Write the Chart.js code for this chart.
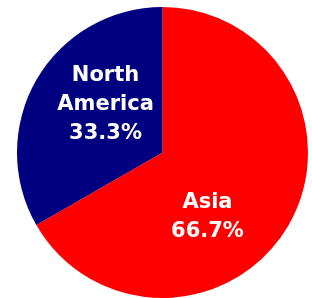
<!DOCTYPE html>
<html>
<head>
<meta charset="utf-8">
<script src="https://cdn.jsdelivr.net/npm/chart.js@4/dist/chart.umd.min.js"></script>
<style>
  html, body { margin: 0; padding: 0; background: #fff; }
  #wrap { width: 312px; height: 298px; }
</style>
</head>
<body>
<div id="wrap"><canvas id="pieChart"></canvas></div>
<script>
const regions = ["Asia", "North America"];
const shares = [66.7, 33.3];
const sliceColors = ["#FF0000", "#000080"];

// labels are drawn inside the slices, nudged from the arc centre like the original
const labelNudge = [[-18, 28], [6, -12]];

const sliceLabels = {
  id: "sliceLabels",
  afterDatasetsDraw(chart) {
    const ctx = chart.ctx;
    const meta = chart.getDatasetMeta(0);
    ctx.save();
    ctx.fillStyle = "#fff";
    ctx.font = "bold 21px 'DejaVu Sans', Verdana, sans-serif";
    ctx.textAlign = "center";
    ctx.textBaseline = "middle";
    meta.data.forEach((arc, i) => {
      const pos = arc.tooltipPosition();
      const x = pos.x + labelNudge[i][0];
      const y = pos.y + labelNudge[i][1];
      const lines = regions[i].split(" ");
      lines.push(shares[i].toFixed(1) + "%");
      const lh = 29;
      const top = y - (lines.length - 1) * lh / 2;
      lines.forEach((t, j) => ctx.fillText(t, x, top + j * lh));
    });
    ctx.restore();
  }
};

new Chart(document.getElementById("pieChart"), {
  type: "pie",
  data: {
    labels: regions,
    datasets: [{
      data: shares,
      backgroundColor: sliceColors,
      borderWidth: 0
    }]
  },
  options: {
    responsive: true,
    maintainAspectRatio: false,
    animation: false,
    layout: { padding: { left: 17, right: 4, top: 7, bottom: 0 } },
    plugins: {
      legend: { display: false },
      tooltip: { enabled: false }
    }
  },
  plugins: [sliceLabels]
});
</script>
</body>
</html>
